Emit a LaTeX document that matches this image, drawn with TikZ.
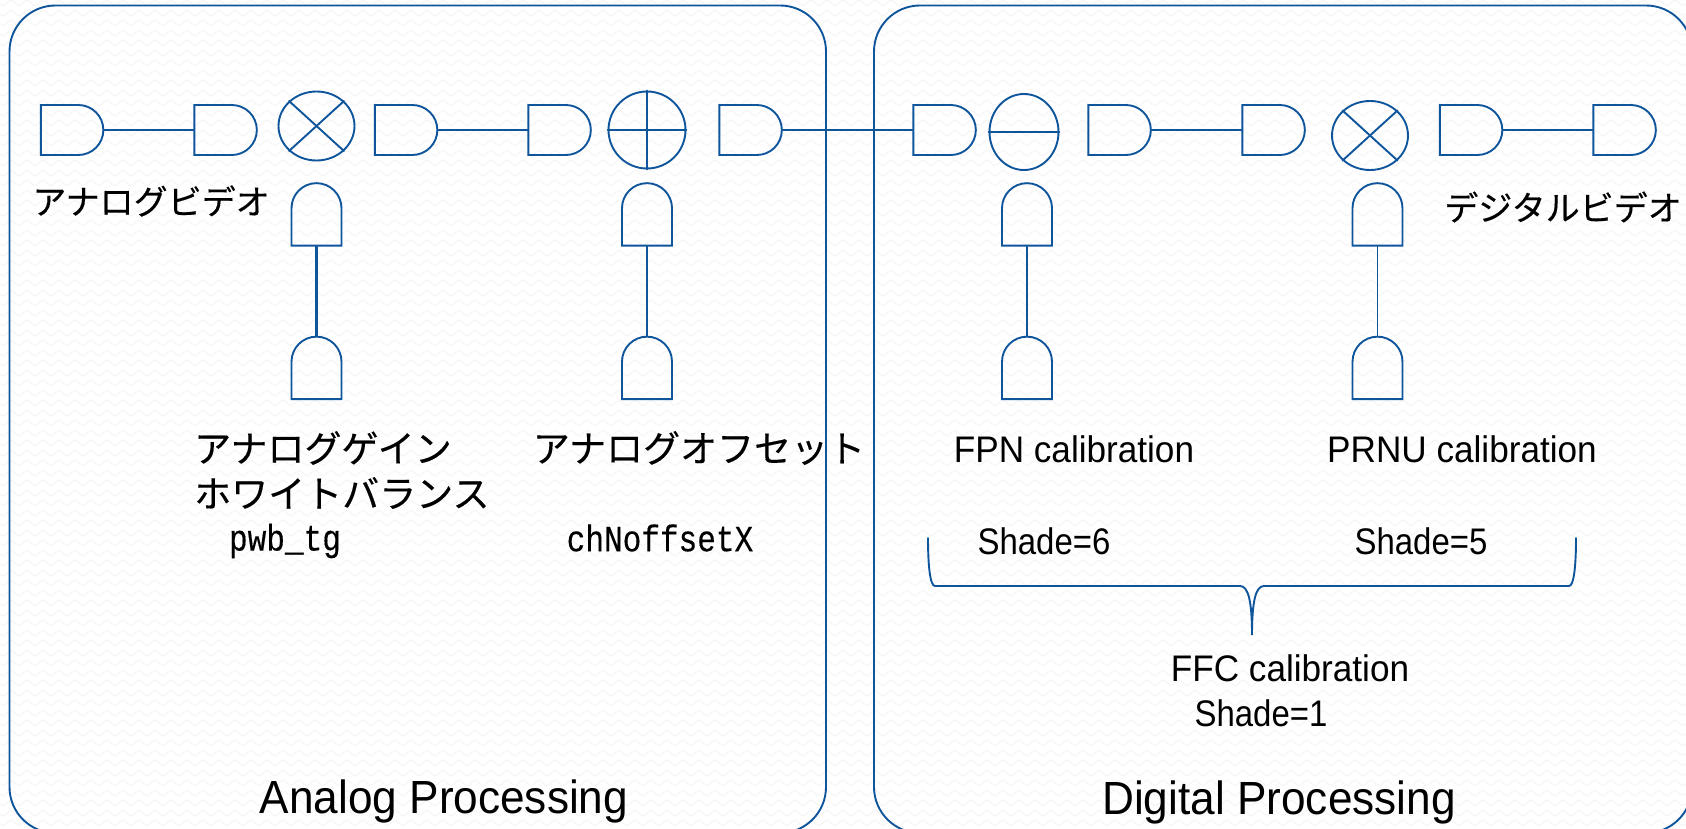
\documentclass[tikz,border=0pt]{standalone}
\usepackage{fontspec}
\setmainfont{Liberation Sans}
\newfontfamily\latinfont[FakeStretch=0.95]{Liberation Sans}
\newfontfamily\shadefont[FakeStretch=0.89]{Liberation Sans}
\newfontfamily\monofont[FakeStretch=0.84,FakeBold=0.3]{Liberation Mono}
\newfontfamily\cjkfont[FakeBold=0.3]{Noto Sans CJK JP}
\usetikzlibrary{shapes.geometric,shapes.gates.logic.US,decorations.pathmorphing}
\definecolor{gateblue}{RGB}{15,85,155}
\definecolor{wavegray}{RGB}{247,247,247}
\tikzset{
  gate/.style={and gate US,draw=gateblue,line width=1.9pt,inner sep=0pt,minimum width=58pt,minimum height=50pt},
  upgate/.style={gate,rotate=90},
  mixer/.style={ellipse,draw=gateblue,line width=1.9pt,inner sep=0pt,minimum width=76pt,minimum height=69pt},
  panel/.style={draw=gateblue,line width=1.9pt,rounded corners=46pt},
  wire/.style={draw=gateblue,line width=1.9pt},
  jptext/.style={font=\fontsize{37}{37}\cjkfont,inner sep=0pt,text=black},
  latext/.style={font=\fontsize{37}{37}\latinfont,inner sep=0pt,text=black},
  shadetext/.style={font=\fontsize{37}{37}\shadefont,inner sep=0pt,text=black},
  monotext/.style={font=\fontsize{37}{37}\monofont,inner sep=0pt,text=black},
  bigtext/.style={font=\fontsize{46.5}{47}\latinfont,inner sep=0pt,text=black}
}

\begin{document}
\begin{tikzpicture}[x=1pt,y=-1pt,line cap=round]
  \useasboundingbox (0,0) rectangle (1686,829);

  % paper texture
  \begin{scope}
    \clip (0,0) rectangle (1686,829);
    \foreach \yy in {3,13,...,833}
      \draw [wavegray,line width=1.5pt,decorate,decoration={snake,segment length=16pt,amplitude=2.5pt}] (-10,\yy) -- (1700,\yy);

    \draw [panel] (9.5,5.5) rectangle (826,833);
    \draw [panel] (874,5.5) rectangle (1692,833);
  \end{scope}

  % top row
  \node [gate] (g1) at (70,130) {};
  \node [gate] (g2) at (223.5,130) {};
  \node [mixer] (m1) at (316.5,126) {};
  \node [gate] (g3) at (404,130) {};
  \node [gate] (g4) at (557.5,130) {};
  \node [mixer,minimum width=77pt,minimum height=77pt] (m2) at (647,130) {};
  \node [gate] (g5) at (748.5,130) {};
  \node [gate] (g6) at (942.5,130) {};
  \node [mixer,minimum width=69pt,minimum height=76pt] (m3) at (1024,132) {};
  \node [gate] (g7) at (1117.5,130) {};
  \node [gate] (g8) at (1271.5,130) {};
  \node [mixer] (m4) at (1370,135.5) {};
  \node [gate] (g9) at (1469,130) {};
  \node [gate] (g10) at (1622.5,130) {};

  % calibration inputs
  \node [upgate] (u1) at (316.5,216.5) {};
  \node [upgate] (d1) at (316.5,370) {};
  \node [upgate] (u2) at (647,216.5) {};
  \node [upgate] (d2) at (647,370) {};
  \node [upgate] (u3) at (1027,216.5) {};
  \node [upgate] (d3) at (1027,370) {};
  \node [upgate] (u4) at (1377.5,216.5) {};
  \node [upgate] (d4) at (1377.5,370) {};

  % wires
  \draw [wire] (g1.east) -- (g2.west);
  \draw [wire] (g3.east) -- (g4.west);
  \draw [wire] (g5.east) -- (g6.west);
  \draw [wire] (g7.east) -- (g8.west);
  \draw [wire] (g9.east) -- (g10.west);
  \draw [wire,line width=2.8pt] (u1.west) -- (d1.east);
  \draw [wire,line width=2.8pt] (u2.west) -- (d2.east);
  \draw [wire] (u3.west) -- (d3.east);
  \draw [wire] (u4.west) -- (d4.east);

  % mixer marks
  \draw [wire] (m1.north west) -- (m1.south east);
  \draw [wire] (m1.north east) -- (m1.south west);
  \draw [wire] (m2.north) -- (m2.south);
  \draw [wire] (m2.west) -- (m2.east);
  \draw [wire] (m3.west) -- (m3.east);
  \draw [wire] (m4.north west) -- (m4.south east);
  \draw [wire] (m4.north east) -- (m4.south west);

  % bracket
  \draw [wire] (928,538) .. controls (928,565) and (930,586) .. (935,586) -- (1240,586)
    .. controls (1248,586) and (1252,600) .. (1252,635)
    .. controls (1252,600) and (1256,586) .. (1264,586) -- (1569,586)
    .. controls (1574,586) and (1576,565) .. (1576,538);

  % labels
  \node [jptext] (t1) at (151,201) {\fontsize{34}{34}\selectfont アナログビデオ};
  \node [jptext] (t2) at (1563,207) {\fontsize{34}{34}\selectfont デジタルビデオ};
  \node [jptext,anchor=west] (t3) at (194,448) {アナログゲイン};
  \node [jptext,anchor=west] (t4) at (194,493) {ホワイトバランス};
  \node [jptext] (t5) at (699,448) {アナログオフセット};
  \node [monotext] (t6) at (285,541) {pwb\_tg};
  \node [monotext] (t7) at (660,538) {chNoffsetX};
  \node [latext] (t8) at (1074,449) {FPN calibration};
  \node [latext] (t9) at (1462,449) {PRNU calibration};
  \node [shadetext] (t10) at (1044,541) {Shade=6};
  \node [shadetext] (t11) at (1421,541) {Shade=5};
  \node [latext] (t12) at (1290,668) {FFC calibration};
  \node [shadetext] (t13) at (1261,713) {Shade=1};
  \node [bigtext] (t14) at (444,801) {Analog Processing};
  \node [bigtext] (t15) at (1279,802) {Digital Processing};
\end{tikzpicture}
\end{document}
